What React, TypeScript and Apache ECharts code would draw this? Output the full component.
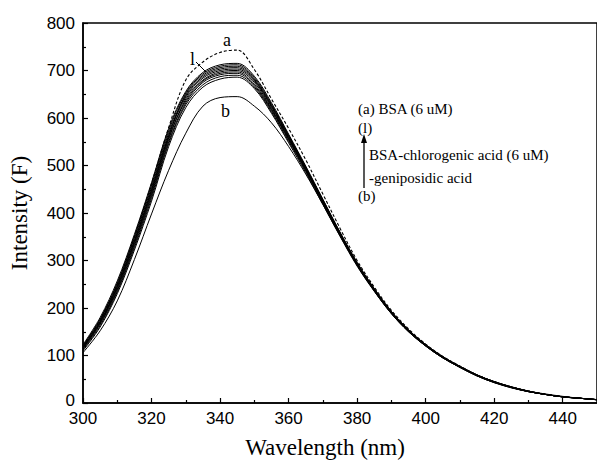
import React, { useEffect, useRef } from "react";
import * as echarts from "echarts";

const wavelengths = [300, 305, 310, 315, 320, 325, 330, 335, 340, 345, 350, 355, 360, 365, 370, 375, 380, 385, 390, 395, 400, 405, 410, 415, 420, 425, 430, 435, 440, 445, 450];

const curveA = [120, 175, 250, 350, 462, 580, 680, 718, 738, 743, 702, 640, 578, 512, 440, 368, 300, 244, 195, 156, 124, 98, 78, 59, 45, 34, 25, 18, 13, 10, 7];
const curveB = [106, 152, 215, 302, 398, 490, 568, 625, 643, 645, 625, 590, 540, 482, 418, 352, 290, 236, 188, 150, 120, 95, 75, 57, 43, 32, 24, 18, 13, 10, 7];
const curveC = [110, 160, 230, 322, 425, 540, 622, 665, 682, 686, 662, 610, 548, 485, 418, 351, 288, 235, 188, 150, 120, 95, 75, 57, 43, 32, 24, 18, 13, 10, 7];
const curveD = [112, 163, 234, 327, 431, 546, 628, 670, 687, 690, 665, 613, 551, 488, 420, 353, 290, 236, 189, 151, 120, 95, 75, 57, 43, 33, 24, 18, 13, 10, 7];
const curveE = [114, 166, 237, 331, 436, 550, 632, 675, 691, 694, 668, 616, 554, 490, 422, 354, 291, 237, 189, 151, 121, 96, 76, 58, 44, 33, 24, 18, 13, 10, 7];
const curveF = [116, 170, 243, 338, 444, 558, 636, 678, 694, 697, 671, 618, 556, 491, 423, 355, 292, 238, 190, 152, 121, 96, 76, 58, 44, 33, 24, 18, 13, 10, 7];
const curveG = [115, 168, 240, 335, 440, 555, 640, 680, 697, 700, 675, 620, 557, 492, 424, 356, 292, 238, 190, 152, 121, 96, 76, 58, 44, 33, 24, 18, 13, 10, 7];
const curveH = [118, 172, 246, 342, 449, 563, 644, 684, 700, 703, 678, 623, 559, 494, 425, 357, 293, 239, 191, 153, 122, 97, 76, 58, 44, 33, 25, 18, 13, 10, 7];
const curveI = [120, 175, 250, 347, 454, 568, 647, 687, 703, 706, 680, 625, 561, 495, 426, 358, 294, 239, 191, 153, 122, 97, 77, 59, 45, 33, 25, 18, 13, 10, 7];
const curveJ = [117, 171, 245, 341, 448, 562, 650, 690, 706, 709, 682, 627, 562, 496, 427, 358, 294, 240, 192, 153, 122, 97, 77, 59, 45, 34, 25, 18, 13, 10, 7];
const curveK = [121, 177, 253, 351, 459, 573, 653, 693, 709, 712, 685, 629, 564, 497, 428, 359, 295, 240, 192, 154, 123, 97, 77, 59, 45, 34, 25, 18, 13, 10, 7];
const curveL = [123, 180, 257, 355, 464, 578, 656, 696, 712, 715, 688, 632, 566, 499, 429, 360, 296, 241, 193, 154, 123, 98, 77, 59, 45, 34, 25, 19, 14, 10, 7];

const curveNames = ["a", "b", "c", "d", "e", "f", "g", "h", "i", "j", "k", "l"];
const curves = [curveA, curveB, curveC, curveD, curveE, curveF, curveG, curveH, curveI, curveJ, curveK, curveL];

const xTitle = "Wavelength (nm)";
const yTitle = "Intensity (F)";
const legendLines = ["(a) BSA (6 uM)", "(l)", "BSA-chlorogenic acid (6 uM)", "-geniposidic acid", "(b)"];

const SERIF = "'Liberation Serif', 'Times New Roman', serif";
const SANS = "'Liberation Sans', Arial, sans-serif";

export default function App() {
  const ref = useRef<HTMLDivElement>(null);
  useEffect(() => {
    if (!ref.current) return;
    const chart = echarts.init(ref.current, null, { renderer: "svg" });
    const series = curves.map((c, idx) => ({
      name: curveNames[idx],
      type: "line",
      data: c.map((v, i) => [wavelengths[i], v]),
      smooth: 0.35,
      showSymbol: false,
      lineStyle: {
        color: "#000",
        width: idx === 0 ? 1.1 : 1,
        type: idx === 0 ? [3, 2] : "solid",
      },
      z: idx === 0 ? 3 : 2,
    }));
    const txt = (text: string, x: number, y: number, size: number) => ({
      type: "text",
      x,
      y,
      style: { text, fill: "#000", font: `${size}px ${SERIF}`, textVerticalAlign: "middle" },
    });
    chart.setOption({
      animation: false,
      grid: { left: 79, right: -2, top: 23, bottom: 57, show: true, borderColor: "#000", borderWidth: 1.5 },
      xAxis: {
        type: "value",
        min: 300,
        max: 450,
        interval: 20,
        name: xTitle,
        nameLocation: "middle",
        nameGap: 33,
        nameTextStyle: { fontFamily: SERIF, fontSize: 23, color: "#000", padding: [0, 30, 0, 0] },
        axisLine: { show: true, lineStyle: { color: "#000", width: 1.5 } },
        axisTick: { show: true, inside: true, length: 5, lineStyle: { color: "#000", width: 1.2 } },
        minorTick: { show: true, splitNumber: 2, length: 3, lineStyle: { color: "#000", width: 1.2 } },
        axisLabel: { fontFamily: SANS, fontSize: 17, color: "#000", margin: 7, showMaxLabel: false },
        splitLine: { show: false },
      },
      yAxis: {
        type: "value",
        min: 0,
        max: 800,
        interval: 100,
        name: yTitle,
        nameLocation: "middle",
        nameGap: 52,
        nameTextStyle: { fontFamily: SERIF, fontSize: 23, color: "#000" },
        axisLine: { show: true, lineStyle: { color: "#000", width: 1.5 } },
        axisTick: { show: true, inside: true, length: 5, lineStyle: { color: "#000", width: 1.2 } },
        minorTick: { show: true, splitNumber: 2, length: 3, lineStyle: { color: "#000", width: 1.2 } },
        axisLabel: {
          fontFamily: SANS,
          fontSize: 17,
          color: "#000",
          margin: 8,
          formatter: (v: number) => (v === 0 ? "{z|0}" : String(v)),
          rich: { z: { fontFamily: SANS, fontSize: 17, color: "#000", padding: [0, 0, 5, 0] } },
        },
        splitLine: { show: false },
      },
      series,
      graphic: [
        txt("a", 223, 40, 18),
        txt("l", 190, 59, 18),
        txt("b", 221, 111, 18),
        { type: "line", shape: { x1: 196, y1: 62, x2: 206, y2: 72 }, style: { stroke: "#000", lineWidth: 1 } },
        txt(legendLines[0], 358, 109, 15),
        txt(legendLines[1], 358, 128, 15),
        txt(legendLines[2], 369, 155, 15),
        txt(legendLines[3], 369, 178, 15),
        txt(legendLines[4], 358, 196, 15),
        { type: "line", shape: { x1: 364, y1: 188, x2: 364, y2: 141 }, style: { stroke: "#000", lineWidth: 1.3 } },
        { type: "polygon", shape: { points: [[364, 134], [361, 143], [367, 143]] }, style: { fill: "#000" } },
      ],
    });
    return () => chart.dispose();
  }, []);
  return <div ref={ref} style={{ position: "absolute", left: 0, top: 0, width: 597, height: 464 }} />;
}
